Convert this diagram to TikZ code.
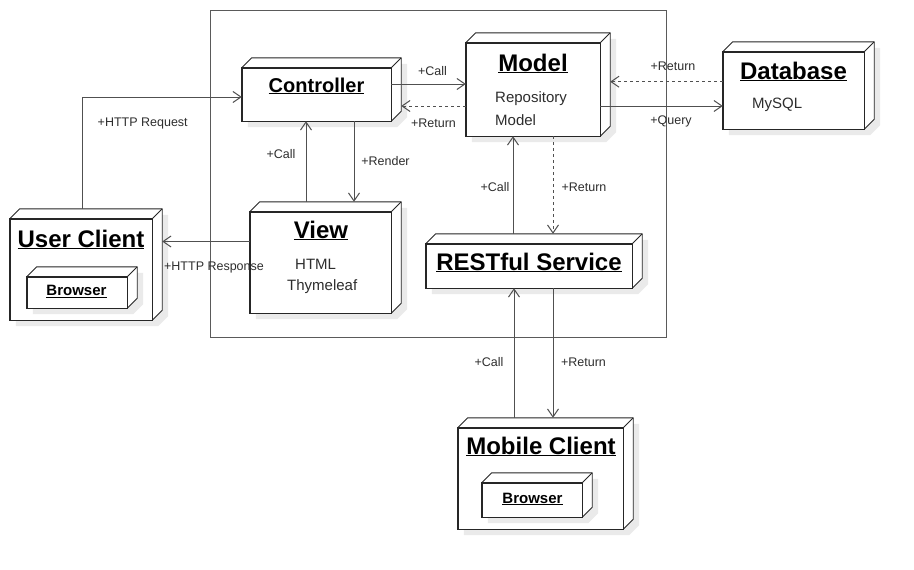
\documentclass[tikz,border=0pt]{standalone}
\usepackage{fontspec}
\setmainfont{Liberation Sans}
\usetikzlibrary{arrows.meta, positioning, calc}

\definecolor{NodeLine}{RGB}{38,38,38}
\definecolor{WireGrey}{RGB}{80,80,80}
\definecolor{FrameGrey}{RGB}{90,90,90}
\definecolor{LabelGrey}{RGB}{45,45,45}
\definecolor{ShadowGrey}{RGB}{234,234,234}

\begin{document}
\begin{tikzpicture}[
    x=1pt, y=-1pt,
    >={Straight Barb[length=8pt, width=11pt]},
    % UML deployment node: the node is the front face, depth faces are added after it
    uml node/.style={
        rectangle,
        inner sep=0pt,
        draw=none,
        append after command={
            \pgfextra{
                % soft shadow
                \fill[ShadowGrey]
                    ($(\tikzlastnode.south west)+(6,6)$)
                    -- ($(\tikzlastnode.north west)+(6,6)$)
                    -- ++(10,-10)
                    -- ($(\tikzlastnode.north east)+(16,-4)$)
                    -- ($(\tikzlastnode.south east)+(16,-4)$)
                    -- ($(\tikzlastnode.south east)+(6,6)$) -- cycle;
                % top and side faces
                \draw[NodeLine, line width=0.9pt, fill=white, line join=round]
                    (\tikzlastnode.north west) -- ++(10,-10)
                    -- ($(\tikzlastnode.north east)+(10,-10)$)
                    -- ($(\tikzlastnode.south east)+(10,-10)$)
                    -- (\tikzlastnode.south east)
                    -- (\tikzlastnode.north east) -- cycle;
                \draw[NodeLine, line width=0.9pt]
                    (\tikzlastnode.north east) -- ++(10,-10);
                % front face
                \draw[NodeLine, line width=1.4pt, fill=white]
                    (\tikzlastnode.north west) rectangle (\tikzlastnode.south east);
            }
        }
    },
    node title/.style={
        font=\fontsize{24}{28}\selectfont\bfseries,
        anchor=base,
        inner sep=0pt
    },
    small title/.style={
        node title,
        font=\fontsize{15}{18}\selectfont\bfseries
    },
    body text/.style={
        font=\fontsize{15}{18}\selectfont,
        text=LabelGrey,
        anchor=base west,
        inner sep=0pt
    },
    lbl/.style={
        font=\fontsize{12.5}{14}\selectfont,
        text=LabelGrey,
        anchor=base,
        inner sep=0pt
    },
    call line/.style={
        ->,
        draw=WireGrey,
        line width=1pt
    },
    return line/.style={
        call line,
        dash pattern=on 3pt off 3pt
    }
]
    \useasboundingbox (0,0) rectangle (914,570);

    % --- Web application frame ---
    \node[draw=FrameGrey, line width=1pt, minimum width=456pt, minimum height=327pt,
          inner sep=0pt] (webapp) at (438,173.5) {};

    % --- Controller ---
    \node[uml node, minimum width=149pt, minimum height=53pt] (ctrl) at (316.5,94.5) {};
    \node[node title, font=\fontsize{20}{24}\selectfont\bfseries] (ctrl-title) at (316.5,92) {\underline{Controller}};

    % --- Model ---
    \node[uml node, minimum width=134pt, minimum height=93pt] (model) at (533,89.5) {};
    \node[node title] (model-title) at (533,71) {\underline{Model}};
    \node[body text] (model-repo) at (495,102) {Repository};
    \node[body text] (model-model) at (495,125) {Model};

    % --- Database ---
    \node[uml node, minimum width=141pt, minimum height=77pt] (db) at (793.5,90.5) {};
    \node[node title] (db-title) at (793.5,79) {\underline{Database}};
    \node[body text] (db-mysql) at (752,108) {MySQL};

    % --- View ---
    \node[uml node, minimum width=141pt, minimum height=101pt] (view) at (320.5,262.5) {};
    \node[node title] (view-title) at (321,238) {\underline{View}};
    \node[body text] (view-html) at (295,269) {HTML};
    \node[body text] (view-thyme) at (287,290) {Thymeleaf};

    % --- User Client ---
    \node[uml node, minimum width=142pt, minimum height=101pt] (user) at (81,269.5) {};
    \node[node title] (user-title) at (81,247) {\underline{User Client}};
    \node[uml node, minimum width=100pt, minimum height=31pt] (ubrowser) at (77,292.5) {};
    \node[small title] (ubrowser-title) at (76.5,295.5) {\underline{Browser}};

    % --- RESTful Service ---
    \node[uml node, minimum width=206pt, minimum height=44pt] (rest) at (529,266) {};
    \node[node title] (rest-title) at (529,270) {\underline{RESTful Service}};

    % --- Mobile Client ---
    \node[uml node, minimum width=165pt, minimum height=101pt] (mobile) at (540.5,478.5) {};
    \node[node title] (mobile-title) at (541,454) {\underline{Mobile Client}};
    \node[uml node, minimum width=100pt, minimum height=34pt] (mbrowser) at (532,500) {};
    \node[small title] (mbrowser-title) at (532.5,503) {\underline{Browser}};

    % --- Connections ---
    % user client <-> controller / view
    \draw[call line] ([xshift=1pt, yshift=10pt]user.north) |- ([yshift=-2.5pt]ctrl.west)
        node[lbl, pos=0.69, yshift=-29pt] {+HTTP Request};
    \draw[call line] ([yshift=21pt]view.west) -- ([xshift=10pt, yshift=28pt]user.east)
        node[lbl, midway, xshift=8pt, yshift=-28.5pt] {+HTTP Response};

    % controller <-> view
    \draw[call line] ([xshift=-14.5pt, yshift=10pt]view.north) -- ([xshift=-10.5pt]ctrl.south)
        node[lbl, midway, xshift=-25pt, yshift=3.5pt] {+Call};
    \draw[call line] ([xshift=37.5pt]ctrl.south) -- ([xshift=33.5pt, yshift=10pt]view.north)
        node[lbl, midway, xshift=31.5pt, yshift=-3.5pt] {+Render};

    % controller <-> model
    \draw[call line] ([yshift=10.5pt]ctrl.east) -- ([yshift=5.5pt]model.west)
        node[lbl, midway, xshift=4pt, yshift=9pt] {+Call};
    \draw[return line] ([yshift=-16.5pt]model.west) -- ([xshift=10pt, yshift=-11.5pt]ctrl.east)
        node[lbl, midway, yshift=-21pt] {+Return};

    % model <-> database
    \draw[return line] ([yshift=8.8pt]db.west) -- ([xshift=10pt, yshift=7.8pt]model.east)
        node[lbl, midway, xshift=6.5pt, yshift=11.7pt] {+Return};
    \draw[call line] ([yshift=-16.5pt]model.east) -- ([yshift=-15.5pt]db.west)
        node[lbl, midway, xshift=9.5pt, yshift=-18.5pt] {+Query};

    % model <-> RESTful service
    \draw[call line] ([xshift=-16pt, yshift=10pt]rest.north) -- ([xshift=-20pt]model.south)
        node[lbl, midway, xshift=-18pt, yshift=-6pt] {+Call};
    \draw[return line] ([xshift=20pt]model.south) -- ([xshift=24pt, yshift=10pt]rest.north)
        node[lbl, midway, xshift=31pt, yshift=-6pt] {+Return};

    % RESTful service <-> mobile client
    \draw[call line] ([xshift=-26.5pt, yshift=10pt]mobile.north) -- ([xshift=-15pt]rest.south)
        node[lbl, midway, xshift=-25pt, yshift=-13pt] {+Call};
    \draw[call line] ([xshift=24pt]rest.south) -- ([xshift=12.5pt, yshift=10pt]mobile.north)
        node[lbl, midway, xshift=30.5pt, yshift=-13pt] {+Return};

\end{tikzpicture}
\end{document}
